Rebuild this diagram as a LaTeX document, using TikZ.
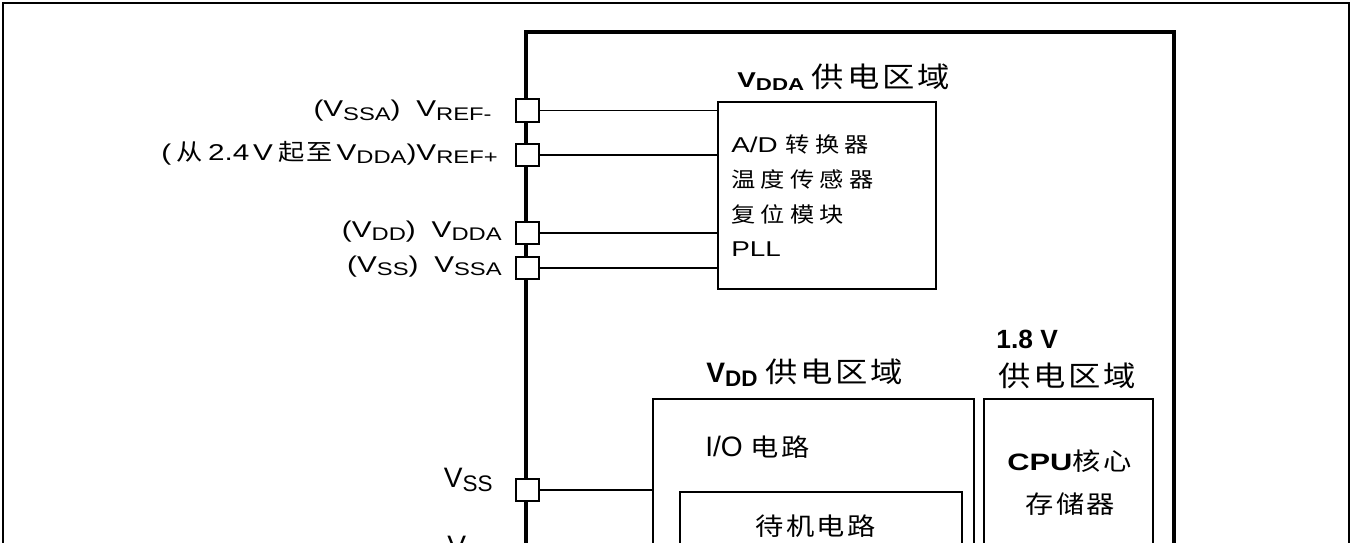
\documentclass[tikz,border=0pt]{standalone}
\usepackage{fontspec}
\setmainfont{Liberation Sans}
\newfontfamily\latw[FakeStretch=1.3]{Liberation Sans}
\newfontfamily\cjk[FakeStretch=1.15,LetterSpace=10]{Noto Sans CJK SC}
\newfontfamily\cjkw[FakeStretch=1.15,LetterSpace=25]{Noto Sans CJK SC}
\newcommand{\latsmall}{\latw\fontsize{12.2}{14}\selectfont}
\newcommand{\latlab}{\latw\fontsize{13}{15}\selectfont}
\newcommand{\latmid}{\latw\fontsize{13.5}{15}\selectfont}
\newcommand{\latbig}{\fontsize{16}{18}\selectfont}
\newcommand{\cnbox}{\cjkw\fontsize{12}{14}\selectfont}
\newcommand{\cntitle}{\cjk\fontsize{16}{18}\selectfont}
\newcommand{\cnlow}{\cjk\fontsize{14}{16}\selectfont}
\newcommand{\cnlab}{\cjk\fontsize{13}{14}\selectfont}
\newcommand{\lo}[1]{\raisebox{-0.3ex}{\scalebox{0.8}{#1}}}
\tikzset{
  padbox/.style={draw, fill=white, line width=1pt, minimum size=0.45cm, inner sep=0pt},
  blk/.style={draw, line width=1.1pt, inner sep=0pt},
  wire/.style={line width=1.1pt},
  lbl/.style={inner sep=0pt, font=\latsmall},
  lblpad/.style={inner sep=0pt, font=\latlab},
  lblmid/.style={inner sep=0pt, font=\latmid},
  lblbig/.style={inner sep=0pt, font=\latbig},
}
\begin{document}
\begin{tikzpicture}[x=0.02cm, y=-0.02cm]
\useasboundingbox (0,0) rectangle (1352,542);
\clip (0,0) rectangle (1352,542);
\draw[line width=1.1pt] (3,3) rectangle (1349,600);
\draw[line width=2.6pt] (526,600) -- (526,32) -- (1174,32) -- (1174,600);

% VDDA domain
\node[blk, minimum width=4.36cm, minimum height=3.74cm] (adc) at (827,195.5) {};
\node[lbl, anchor=base west] (adctitle) at (737,87) {\textbf{V\lo{DDA}} {\cntitle 供电区域}};
\node[lbl, anchor=base west] (adcconv) at (731,152) {A/D {\cnbox 转换器}};
\node[lbl, anchor=base west] (tempsens) at (731,187) {\cnbox 温度传感器};
\node[lbl, anchor=base west] (rstblk) at (731,222) {\cnbox 复位模块};
\node[lbl, anchor=base west] (pll) at (731,256) {PLL};

% VDD and 1.8 V domains
\node[blk, minimum width=6.42cm, minimum height=6.02cm] (vddbox) at (813.5,549.5) {};
\node[blk, minimum width=5.64cm, minimum height=4.16cm] (stdby) at (821,596) {};
\node[blk, minimum width=3.38cm, minimum height=6.02cm] (corebox) at (1068.5,549.5) {};
\node[lblbig, anchor=base west] (vddtitle) at (706,382) {\textbf{V\lo{DD}} {\cntitle 供电区域}};
\node[lblbig, anchor=base west] (coretitle) at (996,348) {\fontsize{15}{17}\selectfont\textbf{1.8 V}};
\node[lblbig, anchor=base west] (coretitle2) at (998,386) {\cntitle 供电区域};
\node[lblbig, anchor=base west] (iocirc) at (705,456) {I/O {\cnlow 电路}};
\node[lblmid, anchor=base west] (cpu) at (1007,470) {\textbf{CPU}{\cnlow 核心}};
\node[lblbig, anchor=base west] (mem) at (1025,513) {\cnlow 存储器};
\node[lblbig, anchor=base west] (stdbytxt) at (755,535) {\cnlow 待机电路};

% pads
\node[padbox] (vrefm) at (527.5,110.5) {};
\node[padbox] (vrefp) at (527.5,155) {};
\node[padbox] (vdda) at (527.5,233) {};
\node[padbox] (vssa) at (527.5,268) {};
\node[padbox] (vss) at (527.5,490) {};

\draw[wire] (vrefm.east) -- (vrefm.east -| adc.west);
\draw[wire] (vrefp.east) -- (vrefp.east -| adc.west);
\draw[wire] (vdda.east) -- (vdda.east -| adc.west);
\draw[wire] (vssa.east) -- (vssa.east -| adc.west);
\draw[wire] (vss.east) -- (vss.east -| vddbox.west);

% pad labels
\node[lblpad, anchor=base east] (lrefm) at (492,116.5) {(V\lo{SSA})\hspace{9pt}V\lo{REF-}};
\node[lblpad, anchor=base east] (lrefp) at (498,160) {(\hspace{3pt}{\cnlab 从}\hspace{3pt}2.4\,V\hspace{3pt}{\cnlab 起至}\hspace{2pt}V\lo{DDA})V\lo{REF+}};
\node[lblpad, anchor=base east] (lvdda) at (502,237) {(V\lo{DD})\hspace{9pt}V\lo{DDA}};
\node[lblpad, anchor=base east] (lvssa) at (502,272) {(V\lo{SS})\hspace{9pt}V\lo{SSA}};
\node[lblbig, anchor=base east] (lvss) at (493,487) {V\lo{SS}};
\node[lblbig, anchor=base west] (lnext) at (447,555) {V};
\end{tikzpicture}
\end{document}
